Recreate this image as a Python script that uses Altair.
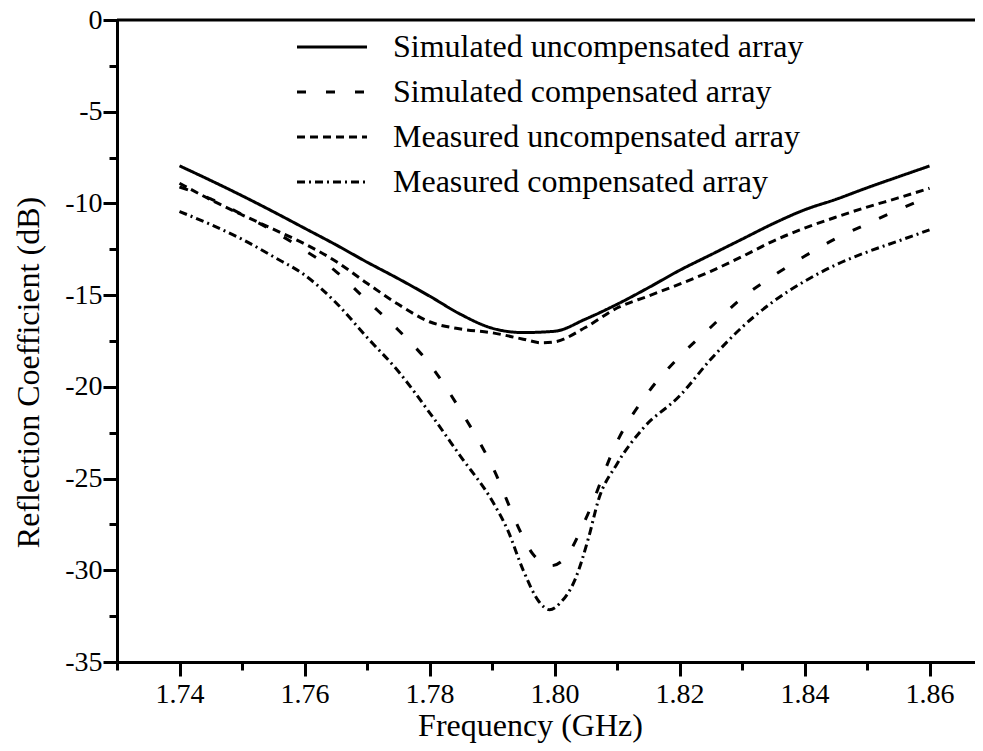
import altair as alt
import pandas as pd

FONT = "Liberation Serif"

names = [
    "Simulated uncompensated array",
    "Simulated compensated array",
    "Measured uncompensated array",
    "Measured compensated array",
]
dashes = [[1, 0], [9, 20], [8, 5], [8, 4, 2, 4]]

f_sim_unc = [1.740, 1.745, 1.750, 1.755, 1.760, 1.765, 1.770, 1.775, 1.780, 1.785,
             1.790, 1.795, 1.800, 1.805, 1.810, 1.815, 1.820, 1.825, 1.830, 1.835,
             1.840, 1.845, 1.850, 1.855, 1.860]
db_sim_unc = [-7.95, -8.75, -9.58, -10.45, -11.35, -12.25, -13.2, -14.1, -15.05, -16.05,
              -16.8, -17.04, -16.97, -16.3, -15.5, -14.6, -13.65, -12.8, -11.95, -11.1,
              -10.35, -9.78, -9.15, -8.55, -7.96]

f_sim_comp = [1.740, 1.745, 1.750, 1.755, 1.760, 1.765, 1.770, 1.775, 1.780, 1.785,
              1.790, 1.795, 1.7965, 1.7995, 1.802, 1.805, 1.810, 1.815, 1.820, 1.825,
              1.830, 1.835, 1.840, 1.845, 1.850, 1.855, 1.860]
db_sim_comp = [-9.1, -9.75, -10.6, -11.5, -12.55, -13.7, -15.3, -16.9, -18.75, -21.3,
               -24.3, -28.2, -29.1, -29.75, -29.2, -27.2, -23.0, -20.3, -18.35, -16.75,
               -15.15, -13.95, -12.88, -11.92, -11.12, -10.35, -9.62]

f_meas_unc = [1.740, 1.745, 1.750, 1.755, 1.760, 1.765, 1.770, 1.775, 1.780, 1.785,
              1.790, 1.795, 1.798, 1.800, 1.805, 1.810, 1.815, 1.820, 1.825, 1.830,
              1.835, 1.840, 1.845, 1.850, 1.855, 1.860]
db_meas_unc = [-8.9, -9.8, -10.62, -11.4, -12.2, -13.15, -14.35, -15.5, -16.45, -16.85,
               -17.05, -17.4, -17.6, -17.55, -16.75, -15.7, -15.05, -14.4, -13.7, -12.9,
               -12.05, -11.35, -10.75, -10.2, -9.7, -9.17]

f_meas_comp = [1.740, 1.745, 1.750, 1.755, 1.760, 1.765, 1.770, 1.775, 1.780, 1.785,
               1.790, 1.7925, 1.795, 1.7975, 1.7992, 1.801, 1.8033, 1.8055, 1.807, 1.810,
               1.8142, 1.820, 1.825, 1.830, 1.835, 1.840, 1.845, 1.850, 1.855, 1.860]
db_meas_comp = [-10.44, -11.15, -11.95, -12.9, -13.9, -15.4, -17.3, -19.15, -21.4, -23.8,
                -26.2, -27.8, -30.0, -31.7, -32.15, -31.75, -30.5, -28.16, -26.2, -24.2,
                -22.25, -20.5, -18.5, -16.75, -15.35, -14.25, -13.35, -12.65, -12.05, -11.44]

x_ticks = [1.73, 1.74, 1.75, 1.76, 1.77, 1.78, 1.79, 1.80, 1.81, 1.82, 1.83, 1.84, 1.85, 1.86]
y_ticks = [-35, -32.5, -30, -27.5, -25, -22.5, -20, -17.5, -15, -12.5, -10, -7.5, -5, -2.5, 0]

rows = []
for name, fs, ds in zip(names,
                        [f_sim_unc, f_sim_comp, f_meas_unc, f_meas_comp],
                        [db_sim_unc, db_sim_comp, db_meas_unc, db_meas_comp]):
    for f, d in zip(fs, ds):
        rows.append({"series": name, "f": f, "db": d})
df = pd.DataFrame(rows)

x_scale = alt.Scale(domain=[1.73, 1.86728], nice=False, zero=False)
y_scale = alt.Scale(domain=[-35, 0], nice=False, zero=False)

x_axis = alt.Axis(
    values=x_ticks,
    labelExpr="round(datum.value*100) % 2 == 0 ? format(datum.value, '.2f') : ''",
    tickSize={"condition": {"test": "round(datum.value*100) % 2 == 0", "value": 14}, "value": 8},
    tickWidth=3, tickColor="black", domainWidth=3, domainColor="black",
    labelFont=FONT, labelFontSize=28, labelColor="black", labelPadding=4,
    labelFlush=False, labelOverlap=False, grid=False,
    title="Frequency (GHz)", titleFont=FONT, titleFontSize=32, titleFontWeight="normal",
    titleColor="black", titleX=413, titleY=73, titleBaseline="alphabetic", titleAlign="center",
)
y_axis = alt.Axis(
    values=y_ticks,
    labelExpr="datum.value % 5 == 0 ? toString(datum.value) : ''",
    tickSize={"condition": {"test": "datum.value % 5 == 0", "value": 14}, "value": 8},
    tickWidth=3, tickColor="black", domainWidth=3, domainColor="black",
    labelFont=FONT, labelFontSize=28, labelColor="black", labelPadding=1,
    labelFlush=False, labelOverlap=False, grid=False,
    title="Reflection Coefficient (dB)", titleFont=FONT, titleFontSize=32,
    titleFontWeight="normal", titleColor="black", titleAngle=270,
    titleX=-79, titleY=352, titleBaseline="alphabetic", titleAlign="center",
)

lines = alt.Chart(df).mark_line(color="black", strokeWidth=3, interpolate="monotone", strokeCap="butt").encode(
    x=alt.X("f:Q", scale=x_scale, axis=x_axis),
    y=alt.Y("db:Q", scale=y_scale, axis=y_axis),
    strokeDash=alt.StrokeDash(
        "series:N",
        scale=alt.Scale(domain=names, range=dashes),
        legend=alt.Legend(
            orient="none", legendX=199, legendY=11, title=None,
            symbolType="M-2.5,0H2.5", symbolSize=784, symbolStrokeWidth=3,
            symbolStrokeColor="black", symbolFillColor="transparent",
            labelFont=FONT, labelFontSize=32, labelColor="black", labelOffset=45,
            labelLimit=0, rowPadding=13, padding=0,
        ),
        sort=names,
    ),
)

top = alt.Chart(pd.DataFrame({"v": [0]})).mark_rule(color="black", strokeWidth=3).encode(
    y=alt.Y("v:Q", scale=y_scale)
)

chart = alt.layer(lines, top).properties(
    width=858, height=642,
    autosize=alt.AutoSizeParams(type="none"),
    padding={"left": 109, "top": 12, "right": 0, "bottom": 81},
).configure_view(stroke=None).configure(background="white")

chart.save("out.html", embed_options={"renderer": "svg", "actions": False})
